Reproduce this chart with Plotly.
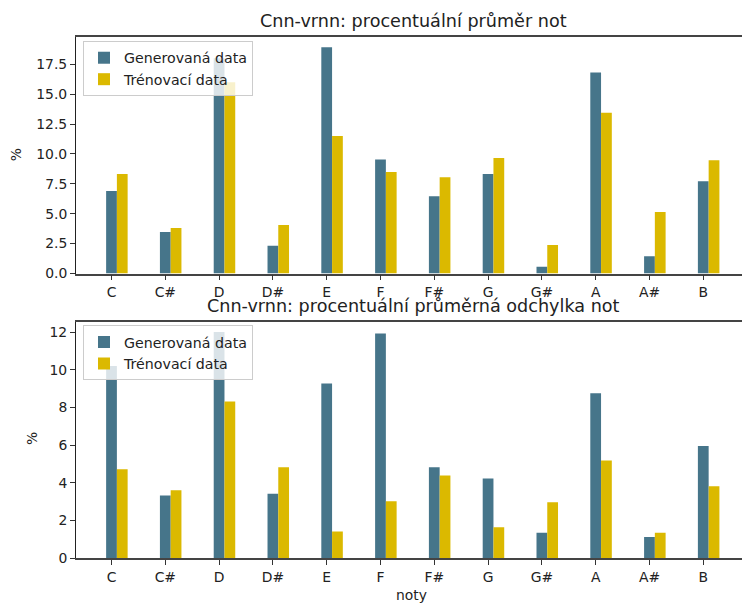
import plotly.graph_objects as go
from plotly.subplots import make_subplots

# ---- data ----
notes = ["C", "C#", "D", "D#", "E", "F", "F#", "G", "G#", "A", "A#", "B"]
mean_generated = [6.9, 3.48, 18.0, 2.31, 18.92, 9.54, 6.46, 8.32, 0.56, 16.81, 1.45, 7.71]
mean_training = [8.32, 3.81, 16.0, 4.06, 11.49, 8.49, 8.04, 9.65, 2.39, 13.44, 5.15, 9.46]
dev_generated = [10.2, 3.33, 12.0, 3.43, 9.27, 11.93, 4.83, 4.23, 1.36, 8.76, 1.13, 5.96]
dev_training = [4.73, 3.61, 8.32, 4.83, 1.42, 3.03, 4.39, 1.65, 2.97, 5.19, 1.36, 3.82]
top_yticks = [0, 2.5, 5, 7.5, 10, 12.5, 15, 17.5]
bottom_yticks = [0, 2, 4, 6, 8, 10, 12]
series_names = ["Generovaná data", "Trénovací data"]

W, H = 742, 606
L = 75.7
PW = W - L
GEN_COLOR = "#46758a"
TRAIN_COLOR = "#dbb900"
FONT = "DejaVu Sans"
TXT = "#222222"

def px_x(px):
    return (px - L) / PW

def px_y(py):
    return 1 - py / H

xpos = list(range(len(notes)))

fig = make_subplots(rows=2, cols=1)

fig.add_trace(go.Bar(x=xpos, y=mean_generated, name=series_names[0], width=0.2, offset=-0.1,
                     marker=dict(color=GEN_COLOR, line=dict(width=0)), legend="legend"), row=1, col=1)
fig.add_trace(go.Bar(x=xpos, y=mean_training, name=series_names[1], width=0.2, offset=0.1,
                     marker=dict(color=TRAIN_COLOR, line=dict(width=0)), legend="legend"), row=1, col=1)
fig.add_trace(go.Bar(x=xpos, y=dev_generated, name=series_names[0], width=0.2, offset=-0.1,
                     marker=dict(color=GEN_COLOR, line=dict(width=0)), legend="legend2"), row=2, col=1)
fig.add_trace(go.Bar(x=xpos, y=dev_training, name=series_names[1], width=0.2, offset=0.1,
                     marker=dict(color=TRAIN_COLOR, line=dict(width=0)), legend="legend2"), row=2, col=1)

xaxis_common = dict(
    range=[-0.66, 11.72], tickmode="array", tickvals=xpos, ticktext=notes,
    showline=True, linecolor="#444444", linewidth=1.5, mirror=True,
    ticks="outside", ticklen=5, tickwidth=1, tickcolor="#333333",
    showgrid=False, zeroline=False,
    tickfont=dict(family=FONT, size=13.9, color=TXT),
    domain=[0, 1],
)
fig.update_layout(
    xaxis=dict(**xaxis_common),
    xaxis2=dict(**xaxis_common),
    yaxis=dict(range=[0, 19.8], tickmode="array", tickvals=top_yticks,
               ticktext=[f"{v:.1f}" for v in top_yticks],
               domain=[px_y(273.5), px_y(36.7)],
               showline=True, linecolor="#222222", linewidth=1,
               ticks="outside", ticklen=5, tickwidth=1, tickcolor="#333333",
               showgrid=False, zeroline=False,
               tickfont=dict(family=FONT, size=13.9, color=TXT)),
    yaxis2=dict(range=[0, 12.55], tickmode="array", tickvals=bottom_yticks,
                ticktext=[str(v) for v in bottom_yticks],
                domain=[px_y(558.3), px_y(321.7)],
                showline=True, linecolor="#222222", linewidth=1,
                ticks="outside", ticklen=5, tickwidth=1, tickcolor="#333333",
                showgrid=False, zeroline=False,
                tickfont=dict(family=FONT, size=13.9, color=TXT)),
    barmode="overlay",
    width=W, height=H,
    margin=dict(l=L, r=0, t=0, b=0, autoexpand=False),
    plot_bgcolor="white", paper_bgcolor="white",
    font=dict(family=FONT, size=13.9, color=TXT),
    legend=dict(x=px_x(82.7), y=px_y(41), xanchor="left", yanchor="top",
                bgcolor="rgba(255,255,255,0.8)", bordercolor="#cccccc", borderwidth=1,
                font=dict(family=FONT, size=14.2, color=TXT), itemwidth=30,
                tracegroupgap=0),
    legend2=dict(x=px_x(82.7), y=px_y(325.3), xanchor="left", yanchor="top",
                 bgcolor="rgba(255,255,255,0.8)", bordercolor="#cccccc", borderwidth=1,
                 font=dict(family=FONT, size=14.2, color=TXT), itemwidth=30,
                 tracegroupgap=0),
    showlegend=True,
)

annotations = [
    dict(text="Cnn-vrnn: procentuální průměr not", x=px_x(413), y=px_y(21),
         font=dict(family=FONT, size=17.6, color=TXT)),
    dict(text="Cnn-vrnn: procentuální průměrná odchylka not", x=px_x(413), y=px_y(305.7),
         font=dict(family=FONT, size=17.6, color=TXT)),
    dict(text="%", x=px_x(16), y=px_y(155), textangle=-90,
         font=dict(family=FONT, size=13.9, color=TXT)),
    dict(text="%", x=px_x(31.7), y=px_y(439), textangle=-90,
         font=dict(family=FONT, size=13.9, color=TXT)),
    dict(text="noty", x=px_x(411.7), y=px_y(595),
         font=dict(family=FONT, size=13.9, color=TXT)),
]
for a in annotations:
    a.update(xref="paper", yref="paper", showarrow=False, xanchor="center", yanchor="middle")
fig.update_layout(annotations=annotations)

fig.write_html("out.html", config={"displayModeBar": False},
               post_script="document.body.style.margin='0';document.body.style.overflow='hidden';")
